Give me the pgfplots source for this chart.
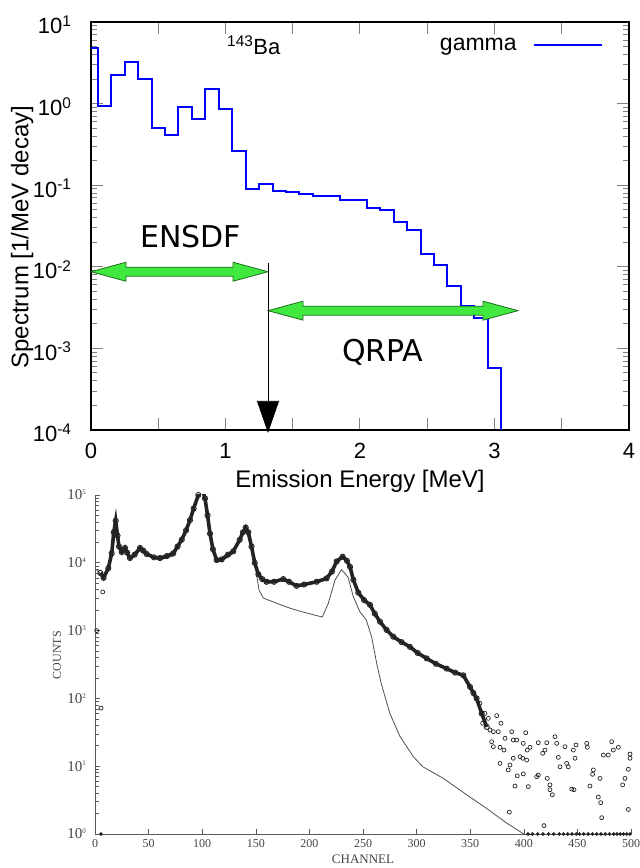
\documentclass[border=0pt]{standalone}
\usepackage{fontspec}
\setmainfont{Liberation Sans}
\newfontfamily\dejavu{DejaVu Sans}
\newfontfamily\serif{Liberation Serif}
\usepackage{pgfplots}
\pgfplotsset{compat=1.18}
\usetikzlibrary{arrows.meta}
\definecolor{arrowfill}{RGB}{64,232,64}
\definecolor{arrowline}{RGB}{30,110,30}
\definecolor{scan}{RGB}{35,35,35}
\definecolor{histblue}{RGB}{0,0,255}

% green double arrow of length #2 starting at point #1
\newcommand\greenarrow[2]{%
  \draw[arrowline, fill=arrowfill, line width=0.8pt] (#1) -- ++(35pt,9.5pt) -- ++(0pt,-5pt)
    -- ++(#2-70pt,0pt) -- ++(0pt,5pt) -- ++(35pt,-9.5pt) -- ++(-35pt,-9.5pt) -- ++(0pt,5pt)
    -- ++(70pt-#2,0pt) -- ++(0pt,-5pt) -- cycle;}
\newcommand\ssc[1]{\textsuperscript{\fontsize{7}{7}\selectfont #1}}

\begin{document}
\begin{tikzpicture}
\useasboundingbox (0,0) rectangle (640pt,868pt);

% ---- top: 143Ba gamma spectrum ----
\begin{axis}[
  at={(91pt,438pt)}, anchor=south west,
  scale only axis, width=538pt, height=408pt,
  xmin=0, xmax=4,
  ymode=log, ymin=1e-4, ymax=10,
  clip=false,
  axis line style={line width=1.6pt},
  major tick style={line width=1pt},
  minor tick style={line width=1pt},
  major tick length=12pt, minor tick length=6pt,
  tick align=inside,
  xtick={0,0.5,...,4},
  xticklabels={0,,1,,2,,3,,4},
  ytick={1e-4,1e-3,1e-2,1e-1,1,10},
  yticklabels={10\textsuperscript{-4},10\textsuperscript{-3},10\textsuperscript{-2},10\textsuperscript{-1},10\textsuperscript{0},10\textsuperscript{1}},
  ticklabel style={font=\fontsize{22}{24}\selectfont},
  xticklabel style={yshift=-10pt},
  yticklabel style={xshift=-16pt, yshift=-3pt},
  xlabel={Emission Energy [MeV]},
  ylabel={Spectrum [1/MeV decay]},
  label style={font=\fontsize{24}{26}\selectfont},
  xlabel style={at={(axis description cs:0.5,0)}, anchor=center, yshift=-51pt},
  ylabel style={at={(axis description cs:-0.128,0.473)}, anchor=center},
  legend plot pos=right,
  legend style={draw=none, fill=none, at={(axis description cs:0.957,0.944)}, anchor=east,
    font=\fontsize{23}{26}\selectfont},
]
% step histogram written out as corner points
\addplot[histblue, line width=2pt, mark=none,
  legend image code/.code={\path (0pt,0pt); \draw[histblue, line width=2pt] (14pt,0pt) -- (82pt,0pt);}] coordinates {
  (0,4.76) (0.05,4.76) (0.05,0.94) (0.15,0.94) (0.15,2.24) (0.25,2.24)
  (0.25,3.2) (0.35,3.2) (0.35,1.99) (0.45,1.99) (0.45,0.50) (0.55,0.50)
  (0.55,0.41) (0.65,0.41) (0.65,0.90) (0.75,0.90) (0.75,0.65) (0.85,0.65)
  (0.85,1.52) (0.95,1.52) (0.95,0.86) (1.05,0.86) (1.05,0.263) (1.15,0.263)
  (1.15,0.0906) (1.25,0.0906) (1.25,0.1026) (1.35,0.1026) (1.35,0.0857) (1.45,0.0857)
  (1.45,0.0826) (1.55,0.0826) (1.55,0.078) (1.65,0.078) (1.65,0.0738) (1.85,0.0738)
  (1.85,0.0665) (2.05,0.0665) (2.05,0.053) (2.15,0.053) (2.15,0.0497) (2.25,0.0497)
  (2.25,0.0354) (2.35,0.0354) (2.35,0.0285) (2.45,0.0285) (2.45,0.01435) (2.55,0.01435)
  (2.55,0.0106) (2.65,0.0106) (2.65,0.00582) (2.75,0.00582) (2.75,0.0033) (2.85,0.0033)
  (2.85,0.00234) (2.95,0.00234) (2.95,0.00058) (3.05,0.00058) (3.05,1e-4)
};
\addlegendentry{gamma}

\node[font=\fontsize{22}{24}\selectfont] at (axis cs:1.21,5.2) {\textsuperscript{143}Ba};

\greenarrow{axis cs:0,0.0087}{177pt}
\greenarrow{axis cs:1.316,0.0029}{250pt}

\node[font=\dejavu\fontsize{30}{32}\selectfont] at (axis cs:0.74,0.0232) {ENSDF};
\node[font=\dejavu\fontsize{30}{32}\selectfont] at (axis cs:2.17,0.000904) {QRPA};

\draw[line width=0.6pt, -{Triangle[width=22pt,length=32pt]}]
  (axis cs:1.316,0.0111) -- (axis cs:1.316,0.000092);
\end{axis}

% ---- bottom: measured counts vs channel ----
\begin{axis}[
  at={(95pt,34pt)}, anchor=south west,
  scale only axis, width=536pt, height=339pt,
  xmin=0, xmax=500,
  ymode=log, ymin=1, ymax=1e5,
  clip mode=individual,
  axis x line*=bottom, axis y line*=left,
  axis line style={scan!75, line width=0.9pt},
  major tick style={scan!75, line width=0.6pt},
  minor tick style={scan!75, line width=0.6pt},
  major tick length=5pt, minor tick length=4pt,
  tick align=inside,
  xtick={0,50,...,500},
  xticklabels={0,50,100,150,200,250,300,350,400,450,500},
  ytick={1,10,100,1000,1e4,1e5},
  yticklabels={10\ssc{0},10\ssc{1},10\ssc{2},10\ssc{3},10\ssc{4},10\ssc{5}},
  ticklabel style={text=scan!85},
  xticklabel style={font=\serif\fontsize{12}{13}\selectfont, yshift=-2pt},
  yticklabel style={font=\serif\fontsize{15}{16}\selectfont, xshift=-5pt},
  xlabel={CHANNEL},
  ylabel={COUNTS},
  label style={text=scan!85},
  xlabel style={font=\serif\fontsize{13}{14}\selectfont, at={(axis description cs:0.5,0)}, anchor=center, yshift=-25pt},
  ylabel style={font=\serif\fontsize{12}{13}\selectfont, at={(axis description cs:-0.071,0.528)}, anchor=center},
]
% simulated response (thin line)
\addplot[scan!80, line width=0.8pt] coordinates {
  (1.6,7762) (8,6310) (13,8913) (16.5,15849) (19.3,30200) (22,17783) (25,13183)
  (28,14791) (33,10965) (42,15136) (48,12882) (60,10965) (73,12589) (81,20893)
  (89,41687) (96.4,100000) (100,125893) (103,85114) (107,26915) (113,10471)
  (118,10471) (129,13804) (135,20893) (140.6,31623) (146,16596) (150,7943)
  (153,3981) (157,3020) (170,2512) (182,2138) (195,1862) (207,1660) (212,1585)
  (217.6,2512) (224,5623) (230,7943) (236,6166) (241,3162) (247,1905) (253,1445)
  (258,813) (263,316) (267,166) (275,60.3) (284.5,27.5) (297,13.8) (306,9.77)
  (325,6.61) (347,3.76) (365,2.40) (384,1.45) (400,1)
};
% measured counts (dense band of circles)
\addplot[scan, line width=3.6pt, mark=o, mark size=2.6pt, mark options={line width=0.9pt}] coordinates {
  (5,7079) (8,6026) (12.4,8318) (15.6,13804) (17.5,28184) (19.3,41687) (21,25119)
  (22.4,17378) (24.9,14454) (28,16596) (30,14125) (32.6,11749) (37,13183)
  (42,16596) (45,15136) (48.2,13490) (55,12023) (60.6,11749) (67,12589)
  (73,13804) (77,17378) (80.9,21878) (85,30200) (88.6,42658) (92,63096)
  (96.4,100000) (100,125893) (102.6,89125) (105,50119) (107.3,26915) (110,15849)
  (113.5,10965) (118.2,11220) (124,13183) (129,14791) (135,21878) (138,28184)
  (140.6,33113) (143,28184) (146,17378) (149,10000) (152.4,6761) (156,5754)
  (160,5248) (167,5248) (175.6,5754) (181,5248) (188,4571) (195,4786)
  (206.8,5248) (216,5888) (221,7413) (225.4,10471) (231,12303) (235,10715)
  (237.9,8710) (241,5623) (245.6,3631) (251,2818) (256.5,2399) (261,1778)
  (265.9,1349) (272,1023) (278.3,813) (286,676) (293.8,575) (301,468)
  (309.4,389) (318,324) (328,275) (336,240) (343.6,219) (349.8,148) (353,120)
  (356,100) (360.7,60) (365.4,38)
};
% scattered counts in the tail
\addplot[scan, only marks, mark=o, mark size=2pt, mark options={line width=0.7pt}] coordinates {
  (1.6,1000) (7.2,3715) (5.6,72)
  (359.1,84.6) (363.8,60) (361.6,43) (366.9,50.8) (374.7,55.6) (378.7,43)
  (368.5,34.2) (371.6,32.3) (376.2,32.3) (370,23) (371.6,19.4) (377.8,19)
  (381.5,17.3) (382.5,25.8) (388.7,32.3) (390.2,24.3) (393.4,24.3) (401.8,31.2)
  (399.5,21.7) (405.8,19) (403.3,17.3) (413.5,22.2) (421.4,22.2) (419.8,17.3)
  (417.6,15.5) (429.1,27.2) (430.7,21.7) (438.4,19.4) (446.2,17.3) (448.7,20.6)
  (458.7,21.7) (459.3,19) (482,23) (483.5,17.3) (488.2,19) (474.2,14.6)
  (478.8,14.6) (499.1,15.1) (499.1,13.1) (377.8,11) (387.1,10.4) (385.5,8.8)
  (390.2,13.1) (396.5,13.8) (399,13.1) (402.7,12.3) (432.2,13.5) (447.8,13.1)
  (440,11) (441.5,9.8) (433.8,9.8) (464.9,8.8) (464.2,7.6) (471.1,6.6)
  (497.5,9) (494.4,6.6) (413.5,7.4) (412,7) (421.9,6.6) (393.9,7.2) (399.5,7.7)
  (391.8,5.1) (404.2,5) (424.4,5.3) (424.4,4.5) (426.6,3.8) (444.7,4.6)
  (446.8,4.5) (461.7,5.1) (492.2,5.3) (469.5,3.5) (471.7,2.9) (497.5,2.3)
  (472.7,1.74) (386.5,2.1) (418.8,1.33)
};
% zero-count channels drawn on the axis
\addplot[scan, only marks, mark=*, mark size=1.6pt] coordinates {
  (5.6,1) (404,1) (408,1) (413,1) (418,1) (423,1) (428,1) (433,1) (437,1)
  (441,1) (445,1) (449,1) (452,1) (456,1) (460,1) (464,1) (468,1) (472,1)
  (476,1) (480,1) (484,1) (487,1) (490,1) (493,1) (496,1) (499,1)
};
\end{axis}
\end{tikzpicture}
\end{document}
